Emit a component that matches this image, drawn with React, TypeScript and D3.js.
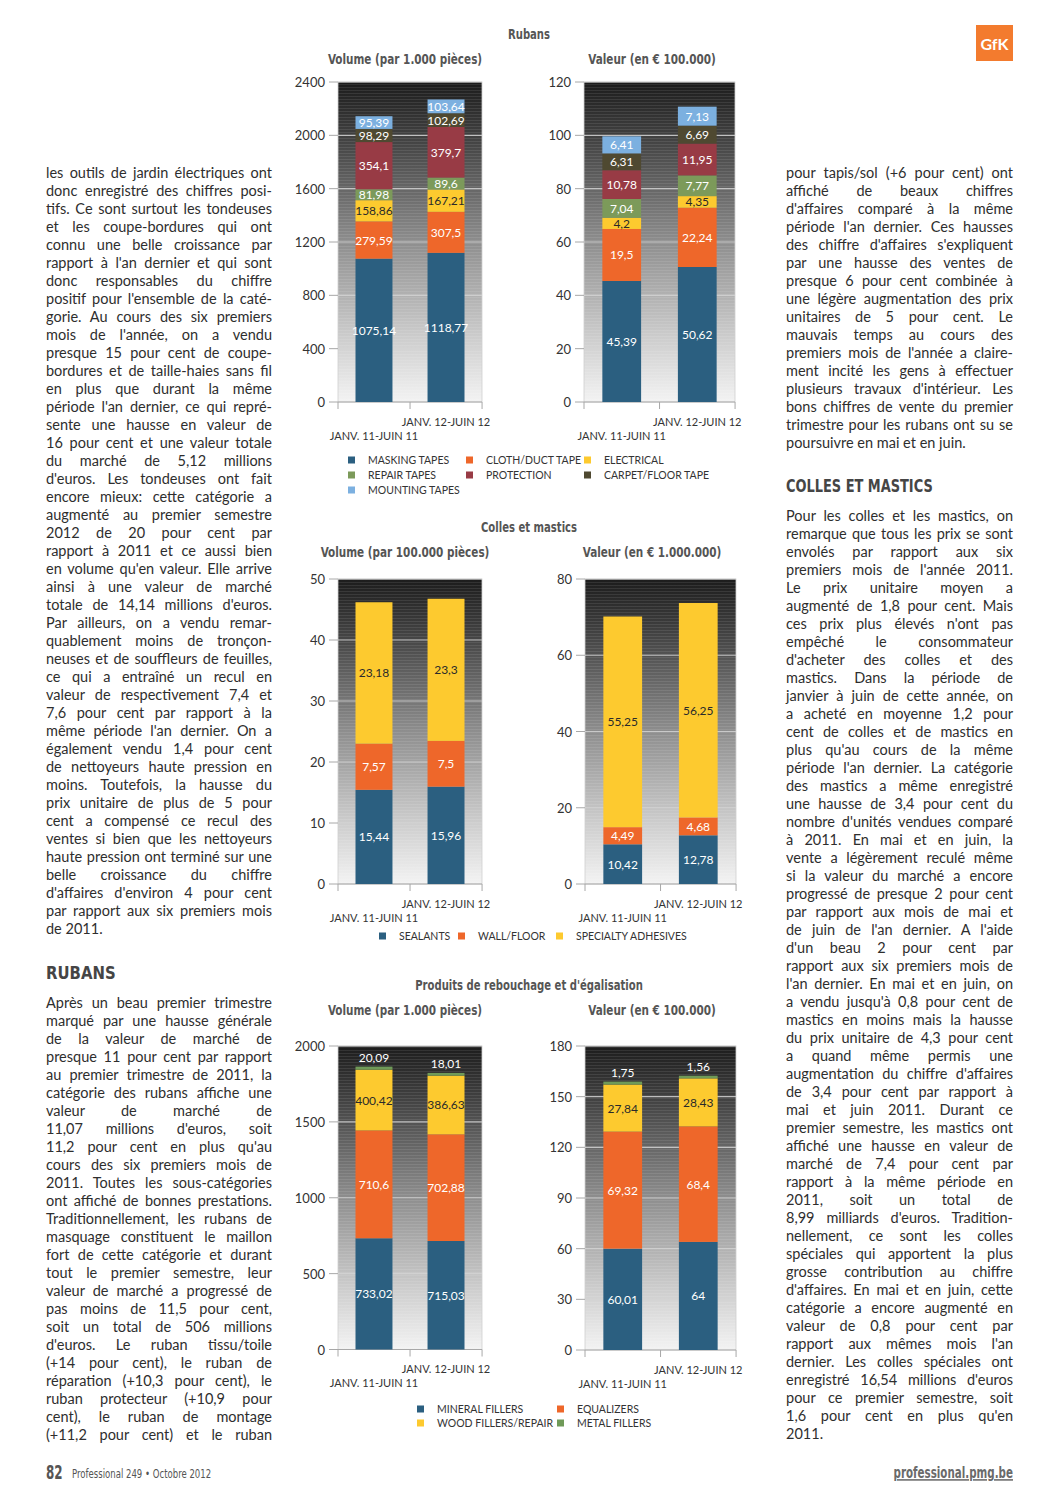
import { useLayoutEffect, useRef } from 'react';
import * as d3 from 'd3';

const periods = ['JANV. 11-JUIN 11', 'JANV. 12-JUIN 12'];

const rubansKeys = ['MASKING TAPES', 'CLOTH/DUCT TAPE', 'ELECTRICAL', 'REPAIR TAPES', 'PROTECTION', 'CARPET/FLOOR TAPE', 'MOUNTING TAPES'];
const rubansColors = ['#2b5f80', '#ee672a', '#fdca2f', '#7c9a5a', '#983b45', '#4f4931', '#7cb0e0'];
const rubansVolume11 = [1075.14, 279.59, 158.86, 81.98, 354.1, 98.29, 95.39];
const rubansVolume12 = [1118.77, 307.5, 167.21, 89.6, 379.7, 102.69, 103.64];
const rubansValue11 = [45.39, 19.5, 4.2, 7.04, 10.78, 6.31, 6.41];
const rubansValue12 = [50.62, 22.24, 4.35, 7.77, 11.95, 6.69, 7.13];

const collesKeys = ['SEALANTS', 'WALL/FLOOR', 'SPECIALTY ADHESIVES'];
const collesColors = ['#2b5f80', '#ee672a', '#fdca2f'];
const collesVolume11 = [15.44, 7.57, 23.18];
const collesVolume12 = [15.96, 7.5, 23.3];
const collesValue11 = [10.42, 4.49, 55.25];
const collesValue12 = [12.78, 4.68, 56.25];

const reboKeys = ['MINERAL FILLERS', 'EQUALIZERS', 'WOOD FILLERS/REPAIR', 'METAL FILLERS'];
const reboColors = ['#2b5f80', '#ee672a', '#fdca2f', '#6f9a58'];
const reboVolume11 = [733.02, 710.6, 400.42, 20.09];
const reboVolume12 = [715.03, 702.88, 386.63, 18.01];
const reboValue11 = [60.01, 69.32, 27.84, 1.75];
const reboValue12 = [64, 68.4, 28.43, 1.56];

const leftText1 = [
  "les outils de jardin électriques ont",
  "donc enregistré des chiffres posi-",
  "tifs. Ce sont surtout les tondeuses",
  "et les coupe-bordures qui ont",
  "connu une belle croissance par",
  "rapport à l'an dernier et qui sont",
  "donc responsables du chiffre",
  "positif pour l'ensemble de la caté-",
  "gorie. Au cours des six premiers",
  "mois de l'année, on a vendu",
  "presque 15 pour cent de coupe-",
  "bordures et de taille-haies sans fil",
  "en plus que durant la même",
  "période l'an dernier, ce qui repré-",
  "sente une hausse en valeur de",
  "16 pour cent et une valeur totale",
  "du marché de 5,12 millions",
  "d'euros. Les tondeuses ont fait",
  "encore mieux: cette catégorie a",
  "augmenté au premier semestre",
  "2012 de 20 pour cent par",
  "rapport à 2011 et ce aussi bien",
  "en volume qu'en valeur. Elle arrive",
  "ainsi à une valeur de marché",
  "totale de 14,14 millions d'euros.",
  "Par ailleurs, on a vendu remar-",
  "quablement moins de tronçon-",
  "neuses et de souffleurs de feuilles,",
  "ce qui a entraîné un recul en",
  "valeur de respectivement 7,4 et",
  "7,6 pour cent par rapport à la",
  "même période l'an dernier. On a",
  "également vendu 1,4 pour cent",
  "de nettoyeurs haute pression en",
  "moins. Toutefois, la hausse du",
  "prix unitaire de plus de 5 pour",
  "cent a compensé ce recul des",
  "ventes si bien que les nettoyeurs",
  "haute pression ont terminé sur une",
  "belle croissance du chiffre",
  "d'affaires d'environ 4 pour cent",
  "par rapport aux six premiers mois",
  "de 2011.",
];

const leftText2 = [
  "Après un beau premier trimestre",
  "marqué par une hausse générale",
  "de la valeur de marché de",
  "presque 11 pour cent par rapport",
  "au premier trimestre de 2011, la",
  "catégorie des rubans affiche une",
  "valeur de marché de",
  "11,07 millions d'euros, soit",
  "11,2 pour cent en plus qu'au",
  "cours des six premiers mois de",
  "2011. Toutes les sous-catégories",
  "ont affiché de bonnes prestations.",
  "Traditionnellement, les rubans de",
  "masquage constituent le maillon",
  "fort de cette catégorie et durant",
  "tout le premier semestre, leur",
  "valeur de marché a progressé de",
  "pas moins de 11,5 pour cent,",
  "soit un total de 506 millions",
  "d'euros. Le ruban tissu/toile",
  "(+14 pour cent), le ruban de",
  "réparation (+10,3 pour cent), le",
  "ruban protecteur (+10,9 pour",
  "cent), le ruban de montage",
  "(+11,2 pour cent) et le ruban",
];

const rightText1 = [
  "pour tapis/sol (+6 pour cent) ont",
  "affiché de beaux chiffres",
  "d'affaires comparé à la même",
  "période l'an dernier. Ces hausses",
  "des chiffre d'affaires s'expliquent",
  "par une hausse des ventes de",
  "presque 6 pour cent combinée à",
  "une légère augmentation des prix",
  "unitaires de 5 pour cent. Le",
  "mauvais temps au cours des",
  "premiers mois de l'année a claire-",
  "ment incité les gens à effectuer",
  "plusieurs travaux d'intérieur. Les",
  "bons chiffres de vente du premier",
  "trimestre pour les rubans ont su se",
  "poursuivre en mai et en juin.",
];

const rightText2 = [
  "Pour les colles et les mastics, on",
  "remarque que tous les prix se sont",
  "envolés par rapport aux six",
  "premiers mois de l'année 2011.",
  "Le prix unitaire moyen a",
  "augmenté de 1,8 pour cent. Mais",
  "ces prix plus élevés n'ont pas",
  "empêché le consommateur",
  "d'acheter des colles et des",
  "mastics. Dans la période de",
  "janvier à juin de cette année, on",
  "a acheté en moyenne 1,2 pour",
  "cent de colles et de mastics en",
  "plus qu'au cours de la même",
  "période l'an dernier. La catégorie",
  "des mastics a même enregistré",
  "une hausse de 3,4 pour cent du",
  "nombre d'unités vendues comparé",
  "à 2011. En mai et en juin, la",
  "vente a légèrement reculé même",
  "si la valeur du marché a encore",
  "progressé de presque 2 pour cent",
  "par rapport aux mois de mai et",
  "de juin de l'an dernier. A l'aide",
  "d'un beau 2 pour cent par",
  "rapport aux six premiers mois de",
  "l'an dernier. En mai et en juin, on",
  "a vendu jusqu'à 0,8 pour cent de",
  "mastics en moins mais la hausse",
  "du prix unitaire de 4,3 pour cent",
  "a quand même permis une",
  "augmentation du chiffre d'affaires",
  "de 3,4 pour cent par rapport à",
  "mai et juin 2011. Durant ce",
  "premier semestre, les mastics ont",
  "affiché une hausse en valeur de",
  "marché de 7,4 pour cent par",
  "rapport à la même période en",
  "2011, soit un total de",
  "8,99 milliards d'euros. Tradition-",
  "nellement, ce sont les colles",
  "spéciales qui apportent la plus",
  "grosse contribution au chiffre",
  "d'affaires. En mai et en juin, cette",
  "catégorie a encore augmenté en",
  "valeur de 0,8 pour cent par",
  "rapport aux mêmes mois l'an",
  "dernier. Les colles spéciales ont",
  "enregistré 16,54 millions d'euros",
  "pour ce premier semestre, soit",
  "1,6 pour cent en plus qu'en",
  "2011.",
];

const bodyFont = 'Lato, "Open Sans", sans-serif';
const narrowFont = '"Liberation Sans Narrow", "DejaVu Sans Condensed", sans-serif';
const fmt = (v: number) => String(v).replace('.', ',');

type ChartProps = {
  keys: string[];
  colors: string[];
  rows: number[][];
  max: number;
  step: number;
  left: number;
  right: number;
  top: number;
  bottom: number;
};

function StackedChart({ keys, colors, rows, max, step, left, right, top, bottom }: ChartProps) {
  const y = d3.scaleLinear().domain([0, max]).range([bottom, top]);
  const x = d3.scaleBand<string>().domain(periods).range([left, right]).paddingInner(0.487).paddingOuter(0.243);
  const table = periods.map((p, i) => {
    const o: Record<string, any> = { period: p };
    keys.forEach((k, j) => (o[k] = rows[i][j]));
    return o;
  });
  const layers = d3.stack<Record<string, any>>().keys(keys)(table);
  const ticks = d3.range(0, max + step / 2, step);
  const step2 = x.step();

  return (
    <g>
      <rect x={left} y={top} width={right - left} height={bottom - top} fill="url(#bgGrad)" />
      <rect x={left} y={top} width={right - left} height={bottom - top} fill="url(#stripes)" />
      <rect x={left} y={top} width={right - left} height={bottom - top} fill="none" stroke="#cfcfcf" strokeWidth={0.8} />
      {ticks.map((t) => (
        <g key={t}>
          {t > 0 && <line x1={left} x2={right} y1={y(t)} y2={y(t)} stroke="#d4d4d4" strokeWidth={1.2} opacity={0.85} />}
          <line x1={left - 9} x2={left} y1={y(t)} y2={y(t)} stroke="#a8a8a8" strokeWidth={1} />
          <text x={left - 13} y={y(t)} textAnchor="end" dominantBaseline="central" fontFamily={bodyFont} fontSize={13} fill="#333">
            {t}
          </text>
        </g>
      ))}
      <line x1={left} x2={right} y1={bottom} y2={bottom} stroke="#a8a8a8" strokeWidth={1} />
      {[0, 1, 2].map((i) => (
        <line key={i} x1={left + i * step2} x2={left + i * step2} y1={bottom} y2={bottom + 7} stroke="#a8a8a8" strokeWidth={1} />
      ))}
      {layers.map((layer, li) =>
        layer.map((d, pi) => (
          <rect
            key={`${li}-${pi}`}
            x={x(periods[pi])}
            width={x.bandwidth()}
            y={y(d[1])}
            height={y(d[0]) - y(d[1])}
            fill={colors[li]}
          />
        ))
      )}
      {layers.map((layer, li) =>
        layer.map((d, pi) => {
          const h = y(d[0]) - y(d[1]);
          const small = h < 9;
          const ly = small ? y(d[1]) - 9 : (y(d[0]) + y(d[1])) / 2;
          const dark = colors[li] === '#fdca2f' && !small;
          return (
            <text
              key={`l${li}-${pi}`}
              x={(x(periods[pi]) as number) + x.bandwidth() / 2}
              y={ly}
              textAnchor="middle"
              dominantBaseline="central"
              fontFamily={bodyFont}
              fontSize={12}
              fill={dark ? '#2a2a2a' : '#ffffff'}
            >
              {fmt(layer[pi].data[layer.key] as number)}
            </text>
          );
        })
      )}
      {periods.map((p, i) => (
        <text
          key={p}
          x={(x(p) as number) + x.bandwidth() / 2}
          y={bottom + (i === 0 ? 33 : 19)}
          textAnchor="middle"
          dominantBaseline="central"
          fontFamily={bodyFont}
          fontSize={11}
          fill="#333"
        >
          {p}
        </text>
      ))}
    </g>
  );
}

function Legend({ keys, colors, cols, rows }: { keys: string[]; colors: string[]; cols: number[]; rows: number[] }) {
  return (
    <g>
      {keys.map((k, i) => {
        const tx = cols[i % cols.length];
        const ty = rows[Math.floor(i / cols.length)];
        return (
          <g key={k}>
            <rect x={tx - 20} y={ty - 3.5} width={7} height={7} fill={colors[i]} />
            <text x={tx} y={ty} dominantBaseline="central" fontFamily={bodyFont} fontSize={10.5} fill="#333">
              {k}
            </text>
          </g>
        );
      })}
    </g>
  );
}

function Column({ lines, x, width, y, justifyLast }: { lines: string[]; x: number; width: number; y: number; justifyLast: boolean }) {
  return (
    <g>
      {lines.map((t, i) => (
        <text
          key={i}
          className="jt"
          x={x}
          y={y + i * 18 + 5}
          data-w={width}
          data-j={justifyLast || i < lines.length - 1 ? '1' : '0'}
          fontFamily={bodyFont}
          fontSize={14.5}
          fill="#2e2e2e"
        >
          {t}
        </text>
      ))}
    </g>
  );
}

// condensed text: horizontally squeezed around its anchor point
function Narrow({ x, y, sx, anchor, size, weight, fill, children, underline }: any) {
  return (
    <g transform={`translate(${x},${y}) scale(${sx},1)`}>
      <text
        x={0}
        y={0}
        textAnchor={anchor}
        fontFamily={narrowFont}
        fontWeight={weight}
        fontSize={size}
        fill={fill}
        textDecoration={underline ? 'underline' : undefined}
      >
        {children}
      </text>
    </g>
  );
}

function Titles({ title, ty, sub1, sub2, sy }: { title: string; ty: number; sub1: string; sub2: string; sy: number }) {
  return (
    <g>
      <Narrow x={529} y={ty + 5} sx={0.8} anchor="middle" size={14} weight={700} fill="#555">
        {title}
      </Narrow>
      <Narrow x={405} y={sy + 5} sx={0.8} anchor="middle" size={14.5} weight={700} fill="#555">
        {sub1}
      </Narrow>
      <Narrow x={652} y={sy + 5} sx={0.8} anchor="middle" size={14.5} weight={700} fill="#555">
        {sub2}
      </Narrow>
    </g>
  );
}

export default function App() {
  const svgRef = useRef<SVGSVGElement>(null);

  useLayoutEffect(() => {
    document.body.style.margin = '0';
    const justify = () => {
      const svg = svgRef.current;
      if (!svg) return;
      svg.querySelectorAll<SVGTextElement>('text.jt').forEach((el) => {
        el.style.wordSpacing = '0px';
        el.removeAttribute('textLength');
        if (el.dataset.j !== '1') return;
        const w = Number(el.dataset.w);
        const nat = el.getComputedTextLength();
        const spaces = (el.textContent || '').split(' ').length - 1;
        if (nat <= w && spaces > 0) {
          el.style.wordSpacing = `${(w - nat) / spaces}px`;
        } else {
          el.setAttribute('textLength', String(w));
          el.setAttribute('lengthAdjust', 'spacingAndGlyphs');
        }
      });
    };
    justify();
    document.fonts?.ready.then(justify);
  }, []);

  return (
    <svg ref={svgRef} width={1058} height={1496} style={{ display: 'block', background: '#fff' }}>
      <defs>
        <linearGradient id="bgGrad" x1="0" y1="0" x2="0" y2="1">
          <stop offset="0" stopColor="#1c1c1c" />
          <stop offset="0.2" stopColor="#474747" />
          <stop offset="0.5" stopColor="#8e8e8e" />
          <stop offset="0.8" stopColor="#cdcdcd" />
          <stop offset="1" stopColor="#f3f3f3" />
        </linearGradient>
        <pattern id="stripes" width={4} height={3} patternUnits="userSpaceOnUse">
          <rect x={0} y={0} width={4} height={1} fill="#ffffff" opacity={0.09} />
        </pattern>
      </defs>

      <Column lines={leftText1} x={46} width={226} y={173} justifyLast={false} />
      <Narrow x={46} y={979} sx={0.92} anchor="start" size={18} weight={700} fill="#454545">
        RUBANS
      </Narrow>
      <Column lines={leftText2} x={46} width={226} y={1003} justifyLast={true} />

      <Column lines={rightText1} x={786} width={227} y={173} justifyLast={false} />
      <Narrow x={786} y={492} sx={0.8} anchor="start" size={18} weight={700} fill="#454545">
        COLLES ET MASTICS
      </Narrow>
      <Column lines={rightText2} x={786} width={227} y={516} justifyLast={false} />

      <Titles title="Rubans" ty={34} sub1="Volume (par 1.000 pièces)" sub2="Valeur (en € 100.000)" sy={59} />
      <StackedChart keys={rubansKeys} colors={rubansColors} rows={[rubansVolume11, rubansVolume12]} max={2400} step={400} left={338} right={482} top={82} bottom={402} />
      <StackedChart keys={rubansKeys} colors={rubansColors} rows={[rubansValue11, rubansValue12]} max={120} step={20} left={584} right={735} top={82} bottom={402} />
      <Legend keys={rubansKeys} colors={rubansColors} cols={[368, 486, 604]} rows={[460, 475, 490]} />

      <Titles title="Colles et mastics" ty={527} sub1="Volume (par 100.000 pièces)" sub2="Valeur (en € 1.000.000)" sy={552} />
      <StackedChart keys={collesKeys} colors={collesColors} rows={[collesVolume11, collesVolume12]} max={50} step={10} left={338} right={482} top={579} bottom={884} />
      <StackedChart keys={collesKeys} colors={collesColors} rows={[collesValue11, collesValue12]} max={80} step={20} left={585} right={736} top={579} bottom={884} />
      <Legend keys={collesKeys} colors={collesColors} cols={[399, 478, 576]} rows={[936]} />

      <Titles title="Produits de rebouchage et d'égalisation" ty={985} sub1="Volume (par 1.000 pièces)" sub2="Valeur (en € 100.000)" sy={1010} />
      <StackedChart keys={reboKeys} colors={reboColors} rows={[reboVolume11, reboVolume12]} max={2000} step={500} left={338} right={482} top={1046} bottom={1349.5} />
      <StackedChart keys={reboKeys} colors={reboColors} rows={[reboValue11, reboValue12]} max={180} step={30} left={585} right={736} top={1046} bottom={1350} />
      <Legend keys={reboKeys} colors={reboColors} cols={[437, 577]} rows={[1409, 1423]} />

      <rect x={976} y={25} width={37} height={36} fill="#f37b2e" />
      <text x={994.5} y={43} textAnchor="middle" dominantBaseline="central" fontFamily={bodyFont} fontWeight={700} fontSize={16} fill="#fff">
        GfK
      </text>

      <Narrow x={46} y={1479} sx={0.7} anchor="start" size={19} weight={700} fill="#555">
        82
      </Narrow>
      <Narrow x={72} y={1478} sx={0.76} anchor="start" size={12.5} weight={400} fill="#555">
        Professional 249 • Octobre 2012
      </Narrow>
      <Narrow x={1013} y={1478} sx={0.74} anchor="end" size={15.5} weight={700} fill="#6a6a6a" underline>
        professional.pmg.be
      </Narrow>
    </svg>
  );
}
